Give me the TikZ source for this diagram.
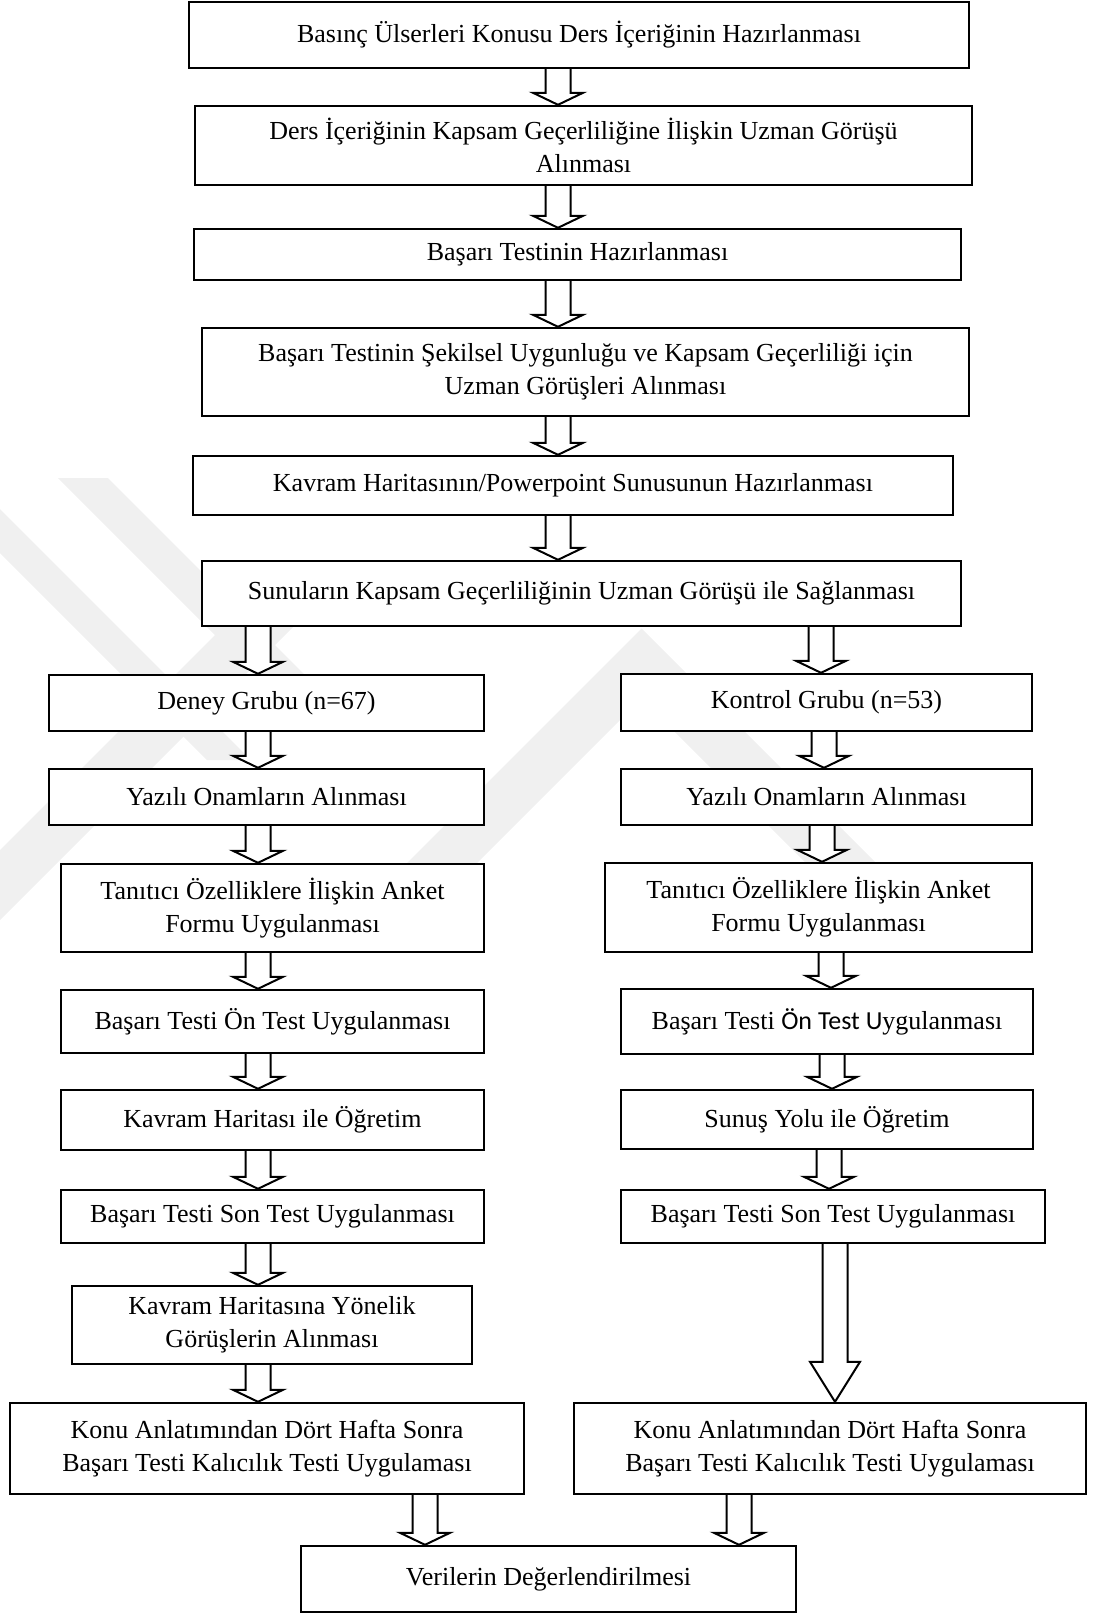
\documentclass[tikz,border=0pt]{standalone}
\usepackage{fontspec}
\setmainfont{Liberation Serif}
\newfontfamily\calibrifont{Carlito}
\usetikzlibrary{calc}

\tikzset{
  box/.style={draw=black, line width=2.4pt, fill=white, rectangle, inner sep=0pt,
              align=center, font=\fontsize{26}{33}\selectfont},
  hollow/.style={draw=black, line width=2pt, fill=white, line join=miter},
  wmark/.style={fill=black!6, draw=none}
}

% box from its corners in pixel units (x right, y down)
\newcommand{\flowbox}[6]{%
  \node[box, minimum width={(#4)-(#2)}, minimum height={(#5)-(#3)}]
    (#1) at ({((#2)+(#4))/2},{((#3)+(#5))/2}) {#6};}

% hollow block arrow from the bottom of #1 to the top of #2 at x = #3
\newcommand{\hollowarrow}[5][12.5]{%
  \draw[hollow] let \p1=(#2.south), \p2=(#3.north) in
    ({#4pt-#1pt},\y1) -- ({#4pt-#1pt},{\y2+#5pt}) -- ({#4pt-25pt},{\y2+#5pt})
    -- (#4pt,\y2) -- ({#4pt+25pt},{\y2+#5pt}) -- ({#4pt+#1pt},{\y2+#5pt})
    -- ({#4pt+#1pt},\y1);}

\begin{document}
\begin{tikzpicture}[x=1pt,y=-1pt]
\useasboundingbox (0,0) rectangle (1093,1614);

% faint background stripes
\fill[wmark] (58,478) -- (108,478) -- (310,680) -- (260,680) -- cycle;
\fill[wmark] (0,509) -- (251,760) -- (207,760) -- (0,553) -- cycle;
\fill[wmark] (0,850) -- (0,920) -- (320,600) -- (250,600) -- cycle;
\fill[wmark] (400,870) -- (641.5,628.5) -- (883,870) -- (813,870)
  -- (641.5,698.5) -- (470,870) -- cycle;

% main column
\flowbox{b1}{189}{2}{969}{68}{Basınç Ülserleri Konusu Ders İçeriğinin Hazırlanması}
\flowbox{b2}{195}{106}{972}{185}{Ders İçeriğinin Kapsam Geçerliliğine İlişkin Uzman Görüşü\\Alınması}
\flowbox{b3}{194}{229}{961}{280}{Başarı Testinin Hazırlanması}
\flowbox{b4}{202}{328}{969}{416}{Başarı Testinin Şekilsel Uygunluğu ve Kapsam Geçerliliği için\\Uzman Görüşleri Alınması}
\flowbox{b5}{193}{456}{953}{515}{Kavram Haritasının/Powerpoint Sunusunun Hazırlanması}
\flowbox{b6}{202}{561}{961}{626}{Sunuların Kapsam Geçerliliğinin Uzman Görüşü ile Sağlanması}

% experimental group
\flowbox{l1}{49}{675}{484}{731}{Deney Grubu (n=67)}
\flowbox{l2}{49}{769}{484}{825}{Yazılı Onamların Alınması}
\flowbox{l3}{61}{864}{484}{952}{Tanıtıcı Özelliklere İlişkin Anket\\Formu Uygulanması}
\flowbox{l4}{61}{990}{484}{1053}{Başarı Testi Ön Test Uygulanması}
\flowbox{l5}{61}{1090}{484}{1150}{Kavram Haritası ile Öğretim}
\flowbox{l6}{61}{1190}{484}{1243}{Başarı Testi Son Test Uygulanması}
\flowbox{l7}{72}{1286}{472}{1364}{Kavram Haritasına Yönelik\\Görüşlerin Alınması}
\flowbox{l8}{10}{1403}{524}{1494}{Konu Anlatımından Dört Hafta Sonra\\Başarı Testi Kalıcılık Testi Uygulaması}

% control group
\flowbox{r1}{621}{674}{1032}{731}{Kontrol Grubu (n=53)}
\flowbox{r2}{621}{769}{1032}{825}{Yazılı Onamların Alınması}
\flowbox{r3}{605}{863}{1032}{952}{Tanıtıcı Özelliklere İlişkin Anket\\Formu Uygulanması}
\flowbox{r4}{621}{989}{1033}{1054}{Başarı Testi {\calibrifont Ön Test U}ygulanması}
\flowbox{r5}{621}{1090}{1033}{1149}{Sunuş Yolu ile Öğretim}
\flowbox{r6}{621}{1190}{1045}{1243}{Başarı Testi Son Test Uygulanması}
\flowbox{r7}{574}{1403}{1086}{1494}{Konu Anlatımından Dört Hafta Sonra\\Başarı Testi Kalıcılık Testi Uygulaması}

% final step
\flowbox{v}{301}{1546}{796}{1612}{Verilerin Değerlendirilmesi}

% connectors
\hollowarrow{b1}{b2}{558}{12}
\hollowarrow{b2}{b3}{558}{12}
\hollowarrow{b3}{b4}{558}{12}
\hollowarrow{b4}{b5}{558}{12}
\hollowarrow{b5}{b6}{558}{12}
\hollowarrow{b6}{l1}{258}{12}
\hollowarrow{b6}{r1}{821}{12}

\hollowarrow{l1}{l2}{258}{12}
\hollowarrow{l2}{l3}{258}{12}
\hollowarrow{l3}{l4}{258}{12}
\hollowarrow{l4}{l5}{258}{12}
\hollowarrow{l5}{l6}{258}{12}
\hollowarrow{l6}{l7}{258}{12}
\hollowarrow{l7}{l8}{258}{12}

\hollowarrow{r1}{r2}{824}{12}
\hollowarrow{r2}{r3}{822}{12}
\hollowarrow{r3}{r4}{831}{12}
\hollowarrow{r4}{r5}{832}{12}
\hollowarrow{r5}{r6}{829}{12}
\hollowarrow{r6}{r7}{835}{40}

\hollowarrow{l8}{v}{425}{12}
\hollowarrow{r7}{v}{739}{12}
\end{tikzpicture}
\end{document}
